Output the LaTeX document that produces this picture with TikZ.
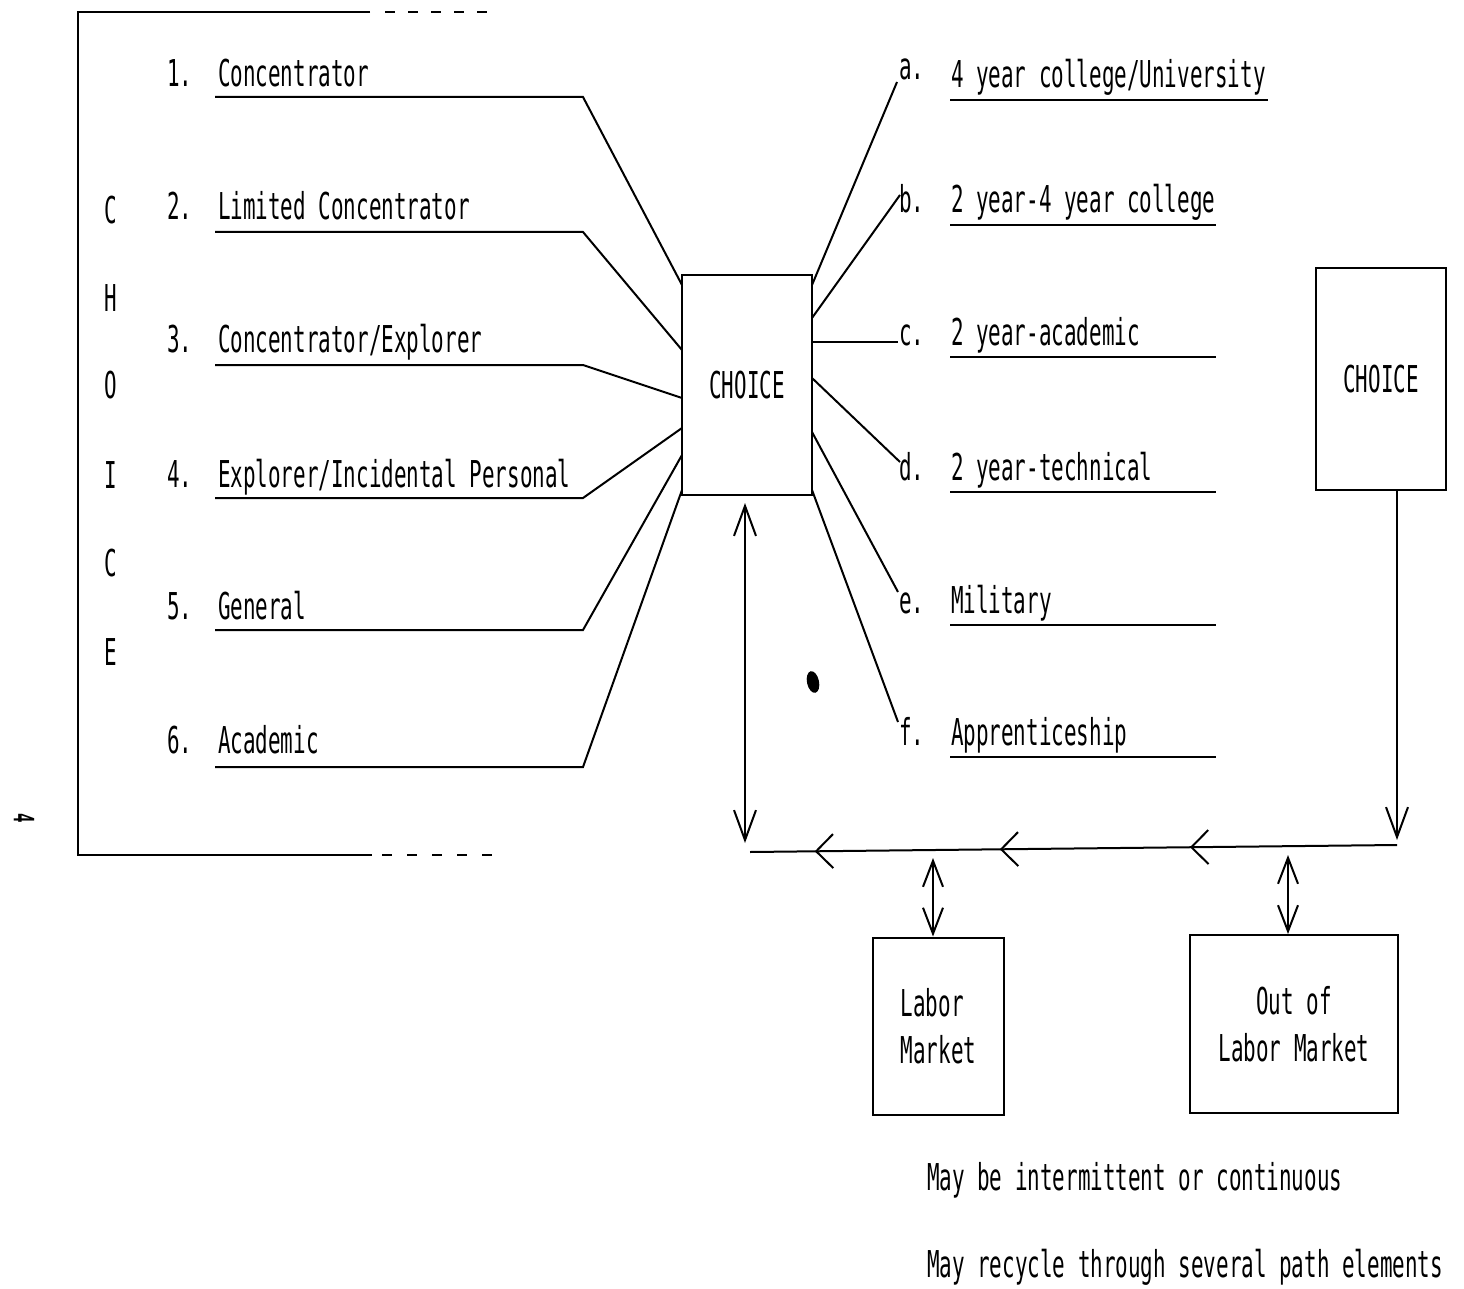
\documentclass[tikz,border=0pt]{standalone}
\usepackage{fontspec}
\newfontfamily\typ[FakeStretch=0.565]{DejaVu Sans Mono}
\usetikzlibrary{arrows.meta,decorations.markings}
\begin{document}
\begin{tikzpicture}[x=1pt,y=-1pt,line width=2pt,
  txt/.style={font=\typ\fontsize{37}{47}\selectfont,inner sep=0pt},
  lbl/.style={txt,anchor=base west},
  boxnode/.style={draw,txt,line width=2pt},
  vtip/.tip={Straight Barb[length=30pt,width=22pt]},
  htip/.tip={Straight Barb[length=17pt,width=34pt]}]
\useasboundingbox (0,0) rectangle (1464,1289);

% left frame
\draw (370,12) -- (78,12) -- (78,855) -- (372,855);
\draw[dash pattern=on 10pt off 13pt] (385,12) -- (497,12);
\draw[dash pattern=on 10pt off 15pt] (382,855) -- (497,855);

% vertical CHOICE
\foreach \l/\yy in {C/210,H/298,O/385,I/475,C/563,E/652}
  \node[txt] at (111,\yy) {\l};

% main CHOICE box
\node[boxnode,minimum width=130pt,minimum height=220pt] (ch1) at (747,385) {CHOICE};

% left items
\node[lbl] (n1) at (166,87) {1.};
\node[lbl] (t1) at (217,87) {Concentrator};
\node[lbl] (n2) at (166,220) {2.};
\node[lbl] (t2) at (217,220) {Limited Concentrator};
\node[lbl] (n3) at (166,352) {3.};
\node[lbl] (t3) at (217,352) {Concentrator/Explorer};
\node[lbl] (n4) at (166,487) {4.};
\node[lbl] (t4) at (217,487) {Explorer/Incidental Personal};
\node[lbl] (n5) at (166,619) {5.};
\node[lbl] (t5) at (217,619) {General};
\node[lbl] (n6) at (166,753) {6.};
\node[lbl] (t6) at (217,753) {Academic};

\coordinate (s1) at (215,97);  \coordinate (e1) at (583,97);  \coordinate (b1) at (682,285);
\coordinate (s2) at (215,232); \coordinate (e2) at (583,232); \coordinate (b2) at (682,350);
\coordinate (s3) at (215,365); \coordinate (e3) at (583,365); \coordinate (b3) at (682,398);
\coordinate (s4) at (215,498); \coordinate (e4) at (583,498); \coordinate (b4) at (682,428);
\coordinate (s5) at (215,630); \coordinate (e5) at (583,630); \coordinate (b5) at (682,455);
\coordinate (s6) at (215,767); \coordinate (e6) at (583,767); \coordinate (b6) at (682,490);
\foreach \i in {1,...,6} \draw (s\i) -- (e\i) -- (b\i);

% right items
\node[lbl] (ra) at (898,80) {a.};
\node[lbl] (ta) at (950,88) {4 year college/University};
\node[lbl] (rb) at (898,213) {b.};
\node[lbl] (tb) at (950,213) {2 year-4 year college};
\node[lbl] (rc) at (898,345) {c.};
\node[lbl] (tc) at (950,345) {2 year-academic};
\node[lbl] (rd) at (898,480) {d.};
\node[lbl] (td) at (950,480) {2 year-technical};
\node[lbl] (re) at (898,613) {e.};
\node[lbl] (te) at (950,613) {Military};
\node[lbl] (rf) at (898,745) {f.};
\node[lbl] (tf) at (950,745) {Apprenticeship};

\draw (950,100) -- (1268,100);
\foreach \yy in {225,357,492,625,757} \draw (950,\yy) -- (1216,\yy);

\coordinate (ca) at (812,285); \coordinate (pa) at (897,82);
\coordinate (cb) at (812,318); \coordinate (pb) at (900,195);
\coordinate (cc) at (812,342); \coordinate (pc) at (898,342);
\coordinate (cd) at (812,378); \coordinate (pd) at (900,462);
\coordinate (ce) at (812,432); \coordinate (pe) at (898,592);
\coordinate (cf) at (812,490); \coordinate (pf) at (898,722);
\foreach \i in {a,b,c,d,e,f} \draw (c\i) -- (p\i);

% second CHOICE box
\node[boxnode,minimum width=130pt,minimum height=222pt] (ch2) at (1381,379) {CHOICE};

% flow line
\coordinate (d1) at (1397,490);
\coordinate (d2) at (1397,840);
\draw[-vtip] (d1) -- (d2);
\coordinate (hr) at (1397,845);
\coordinate (hl) at (750,852);
\draw[postaction={decorate},decoration={markings,
  mark=at position 0.32 with {\arrow{htip}},
  mark=at position 0.614 with {\arrow{htip}},
  mark=at position 0.90 with {\arrow{htip}}}] (hr) -- (hl);

% long double arrow
\coordinate (v1) at (745,503);
\coordinate (v2) at (745,843);
\draw[vtip-vtip] (v1) -- (v2);

% labor market boxes
\node[boxnode,minimum width=131pt,minimum height=177pt,align=left] (lm) at (938.5,1026) {Labor\\Market};
\node[boxnode,minimum width=208pt,minimum height=178pt,align=center] (olm) at (1294,1024) {Out of\\Labor Market};
\draw[{Straight Barb[length=26pt,width=20pt]}-{Straight Barb[length=26pt,width=20pt]}] (933,858) -- (lm.north -| 933,0);
\draw[{Straight Barb[length=26pt,width=20pt]}-{Straight Barb[length=26pt,width=20pt]}] (1288,855) -- (olm.north -| 1288,0);

% notes
\node[lbl] (m1) at (926,1190) {May be intermittent or continuous};
\node[lbl] (m2) at (926,1277) {May recycle through several path elements};

% blob and page number
\fill[rotate around={12:(813,682)}] (813,682) ellipse (6pt and 11pt);
\node[txt,font=\typ\bfseries\fontsize{28}{30}\selectfont,rotate=-90] (pg) at (24,818) {4};
\end{tikzpicture}
\end{document}
